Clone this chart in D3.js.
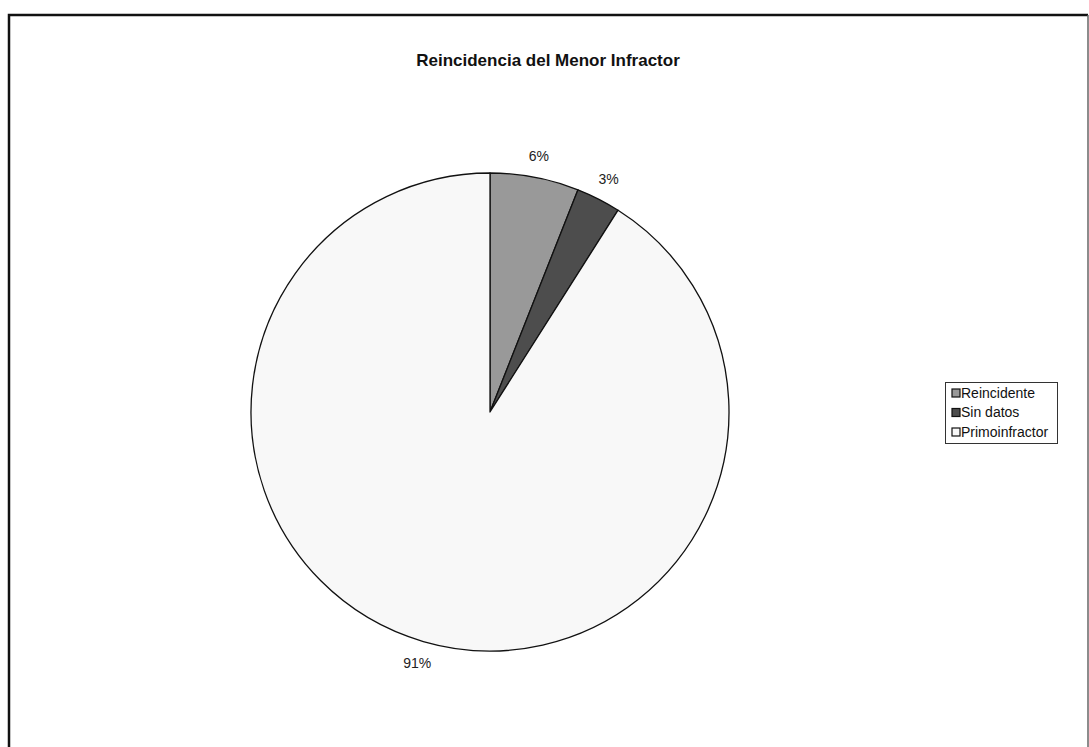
<!DOCTYPE html>
<html>
<head>
<meta charset="utf-8">
<script src="https://cdn.jsdelivr.net/npm/d3@7"></script>
<style>
  html, body { margin: 0; padding: 0; background: #fff; }
  svg { display: block; font-family: Arial, "Liberation Sans", sans-serif; }
</style>
</head>
<body>
<svg id="chart" width="1089" height="747"></svg>
<script>
// Reincidencia del menor infractor: share of cases by category
const categories = ["Reincidente", "Sin datos", "Primoinfractor"];
const values = [6, 3, 91];
const labels = ["6%", "3%", "91%"];
const colors = ["#999999", "#4d4d4d", "#f8f8f8"];

const svg = d3.select("#chart");

// outer frame
svg.append("path")
  .attr("d", "M9,747 V15 H1088")
  .attr("fill", "none").attr("stroke", "#111").attr("stroke-width", 2.5);
svg.append("line")
  .attr("x1", 1088).attr("y1", 15).attr("x2", 1088).attr("y2", 747)
  .attr("stroke", "#666").attr("stroke-width", 1.5);

// title
svg.append("text")
  .attr("x", 548).attr("y", 66)
  .attr("text-anchor", "middle")
  .attr("font-size", 17).attr("font-weight", "bold").attr("fill", "#111")
  .text("Reincidencia del Menor Infractor");

const cx = 490, cy = 412, r = 239;
const g = svg.append("g").attr("transform", `translate(${cx},${cy})`);

const pie = d3.pie().sort(null).value(d => d);
const arcs = pie(values);
const arc = d3.arc().innerRadius(0).outerRadius(r);

g.selectAll("path.slice").data(arcs).enter().append("path")
  .attr("class", "slice")
  .attr("d", arc)
  .attr("fill", (d, i) => colors[i])
  .attr("stroke", "#111").attr("stroke-width", 1.3)
  .attr("stroke-linejoin", "round");

// percentage labels outside the rim
const labelArc = d3.arc().innerRadius(r + 22).outerRadius(r + 22);
g.selectAll("text.lbl").data(arcs).enter().append("text")
  .attr("class", "lbl")
  .attr("transform", d => `translate(${labelArc.centroid(d)})`)
  .attr("text-anchor", "middle")
  .attr("dy", "0.35em")
  .attr("font-size", 14).attr("fill", "#222")
  .text((d, i) => labels[i]);

// legend
const lg = svg.append("g").attr("transform", "translate(945,382)");
lg.append("rect")
  .attr("x", 0.5).attr("y", 0.5).attr("width", 112).attr("height", 61)
  .attr("fill", "#fff").attr("stroke", "#333").attr("stroke-width", 1);
const item = lg.selectAll("g.item").data(categories).enter().append("g")
  .attr("class", "item")
  .attr("transform", (d, i) => `translate(7,${11 + i * 19.5})`);
item.append("rect")
  .attr("x", 0).attr("y", -4).attr("width", 8).attr("height", 8)
  .attr("fill", (d, i) => colors[i])
  .attr("stroke", "#111").attr("stroke-width", 1.2);
item.append("text")
  .attr("x", 9).attr("y", 0).attr("dy", "0.35em")
  .attr("font-size", 14).attr("fill", "#111")
  .text(d => d);
</script>
</body>
</html>
